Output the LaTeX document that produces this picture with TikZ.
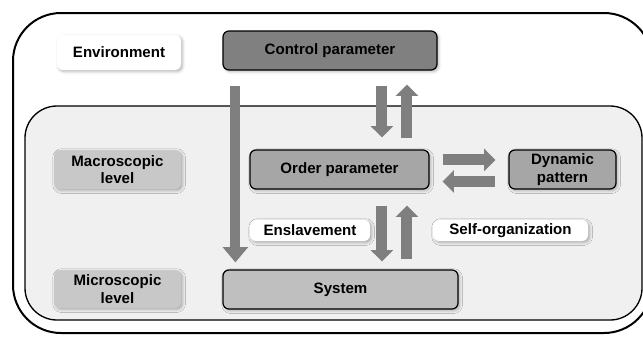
\documentclass[tikz,border=0pt]{standalone}
\usepackage{fontspec}
\setmainfont{Liberation Sans}
\usetikzlibrary{arrows.meta,calc,shadows.blur}

\definecolor{ctrlgray}{HTML}{808080}
\definecolor{ordergray}{HTML}{A6A6A6}
\definecolor{sysgray}{HTML}{BFBFBF}
\definecolor{levelgray}{HTML}{C8C8C8}
\definecolor{panelgray}{HTML}{F0F0F0}
\definecolor{arrowgray}{HTML}{7F7F7F}

\tikzset{
  box/.style={rounded corners=4.5pt, align=center, inner sep=0pt,
    font=\fontsize{11.3}{13}\selectfont\bfseries,
    blur shadow={shadow xshift=1.2pt, shadow yshift=-1.2pt, shadow blur steps=4, shadow opacity=30}},
  darkbox/.style={box, draw=black, line width=0.9pt},
  tag/.style={box, fill=white},
  levelbox/.style={box, fill=levelgray},
  blockarrow/.style={draw=arrowgray, line width=8.25pt,
    -{Triangle[width=16.5pt, length=8.5pt, fill=arrowgray]}},
  longarrow/.style={draw=arrowgray, line width=7.5pt,
    -{Triangle[width=18.5pt, length=11.5pt, fill=arrowgray]}},
}

\begin{document}
\begin{tikzpicture}[x=0.75pt, y=-0.75pt]
  \useasboundingbox (0,0) rectangle (643,337);
  \clip (0,0) rectangle (643,337);

  % environment frame and system panel
  \draw[line width=1.5pt, rounded corners=36pt] (13,13) rectangle (652,333);
  \draw[line width=1pt, fill=panelgray, rounded corners=24pt] (25,106) rectangle (642,320);

  % labels on the left
  \node[tag, minimum width=93pt, minimum height=26.25pt] (env) at (119,52.5) {Environment};
  \node[levelbox, minimum width=95.25pt, minimum height=29.25pt] (macro) at (117.5,169.5) {Macroscopic\\level};
  \node[levelbox, minimum width=95.25pt, minimum height=28.5pt] (micro) at (117.5,289) {Microscopic\\level};

  % main blocks
  \node[darkbox, fill=ctrlgray, minimum width=160.5pt, minimum height=29.25pt] (ctrl) at (330,50.5) {Control parameter};
  \node[darkbox, fill=ordergray, minimum width=134.25pt, minimum height=29.25pt] (order) at (339.5,169.5) {Order parameter};
  \node[darkbox, fill=ordergray, minimum width=80.25pt, minimum height=29.25pt] (dyn) at (562.5,169.5) {Dynamic\\pattern};
  \node[darkbox, fill=sysgray, minimum width=176.25pt, minimum height=29.25pt] (sys) at (340.5,289.5) {System};

  % process labels
  \node[tag, minimum width=90pt, minimum height=15.75pt] (ensl) at (310,230.5) {Enslavement};
  \node[tag, minimum width=116.25pt, minimum height=15.75pt] (selforg) at (510.5,230.5) {Self-organization};

  % control parameter acting directly on the system
  \draw[longarrow] ($(ctrl.south west)+(13,15)$) -- ($(sys.north west)+(13,-7)$);

  % control parameter <-> order parameter
  \draw[blockarrow] ($(ctrl.south west)+(159.5,15)$) -- ($(order.north west)+(132.5,-12)$);
  \draw[blockarrow] ($(order.north west)+(157.5,-11)$) -- ($(ctrl.south west)+(184.5,14)$);

  % order parameter <-> system
  \draw[blockarrow] ($(order.south west)+(132.5,16)$) -- ($(sys.north west)+(159.5,-8)$);
  \draw[blockarrow] ($(sys.north west)+(184.5,-10)$) -- ($(order.south west)+(157.5,16)$);

  % order parameter <-> dynamic pattern
  \draw[blockarrow] ($(order.north east)+(13,10.5)$) -- ($(dyn.north west)+(-13,10.5)$);
  \draw[blockarrow] ($(dyn.north west)+(-13,32)$) -- ($(order.north east)+(13,32)$);
\end{tikzpicture}
\end{document}
